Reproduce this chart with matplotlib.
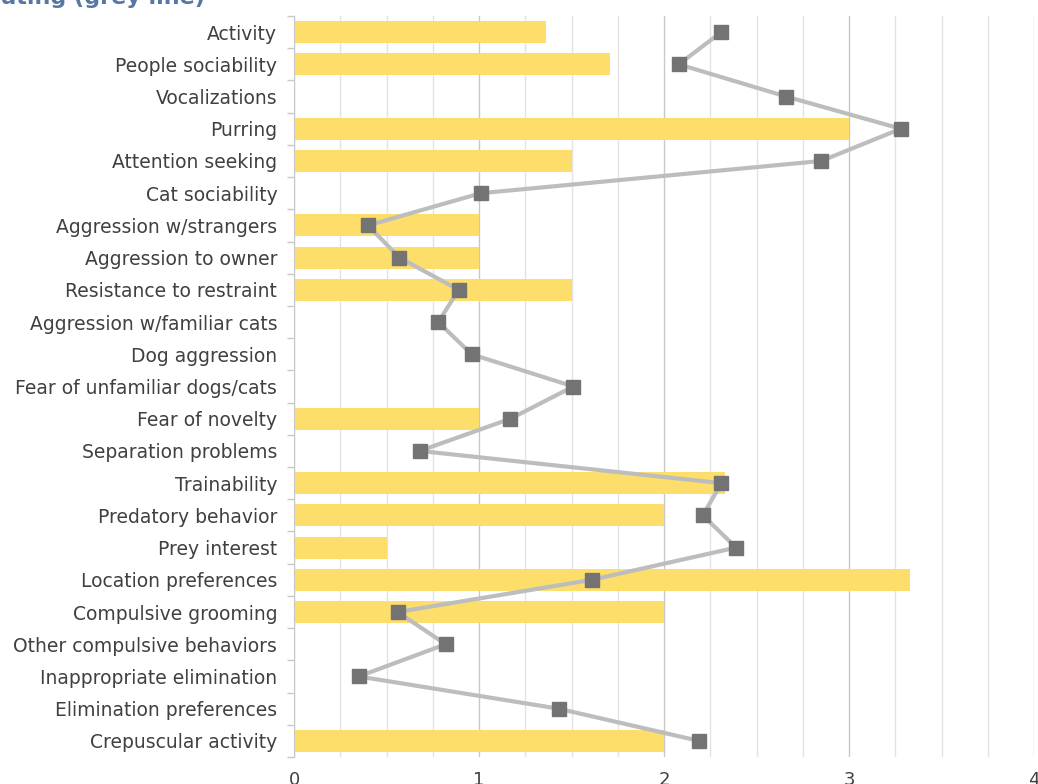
import matplotlib
matplotlib.use("Agg")
import matplotlib.pyplot as plt
import numpy as np

categories = ["Activity", "People sociability", "Vocalizations", "Purring", "Attention seeking",
              "Cat sociability", "Aggression w/strangers", "Aggression to owner",
              "Resistance to restraint", "Aggression w/familiar cats", "Dog aggression",
              "Fear of unfamiliar dogs/cats", "Fear of novelty", "Separation problems",
              "Trainability", "Predatory behavior", "Prey interest", "Location preferences",
              "Compulsive grooming", "Other compulsive behaviors", "Inappropriate elimination",
              "Elimination preferences", "Crepuscular activity"]
bar_values = [1.36, 1.71, 0, 3.0, 1.5, 0, 1.0, 1.0, 1.5, 0, 0, 0, 1.0, 0,
              2.33, 2.0, 0.5, 3.33, 2.0, 0, 0, 0, 2.0]
line_values = [2.31, 2.08, 2.66, 3.28, 2.85, 1.01, 0.40, 0.57, 0.89, 0.78, 0.96, 1.51,
               1.17, 0.68, 2.31, 2.21, 2.39, 1.61, 0.56, 0.82, 0.35, 1.43, 2.19]
x_ticks = [0, 1, 2, 3, 4]

plt.rcParams['font.family'] = ['DejaVu Sans']
fig = plt.figure(figsize=(10.38, 7.84), dpi=100)
ax = fig.add_axes([294/1038, 27/784, (1034-294)/1038, (757-16)/784])

y = np.arange(len(categories))
ax.barh(y, bar_values, height=0.68, color='#FDDE6A', zorder=2)
ax.plot(line_values, y, color='#BDBDBD', lw=3, zorder=3)
ax.plot(line_values, y, ls='none', marker='s', ms=10.5, color='#737373', zorder=4)

ax.set_xlim(0, 4)
ax.set_ylim(len(categories) - 0.5, -0.5)
ax.set_xticks(x_ticks)
ax.set_xticks(np.arange(0, 4.01, 0.25), minor=True)
ax.grid(axis='x', which='minor', color='#E3E3E3', lw=1, zorder=0)
ax.grid(axis='x', which='major', color='#C8C8C8', lw=1, zorder=0)
ax.set_yticks(y)
ax.set_yticklabels(categories, fontsize=13.5, color='#404040')
ax.set_yticks(np.arange(-0.5, len(categories)), minor=True)
ax.tick_params(axis='y', which='major', length=0, pad=12)
ax.tick_params(axis='y', which='minor', length=5, color='#C8C8C8', width=1)
ax.tick_params(axis='x', which='both', length=0, pad=10, labelsize=13, labelcolor='#404040')
for s in ['top', 'right', 'bottom']:
    ax.spines[s].set_visible(False)
ax.spines['left'].set_color('#C8C8C8')

fig.text(205/1038, 1 - 4/784, "Breed average rating (grey line)", ha='right', va='baseline',
         fontsize=16, color='#5577A3', fontweight='semibold')

fig.savefig("out.png", dpi=100)
